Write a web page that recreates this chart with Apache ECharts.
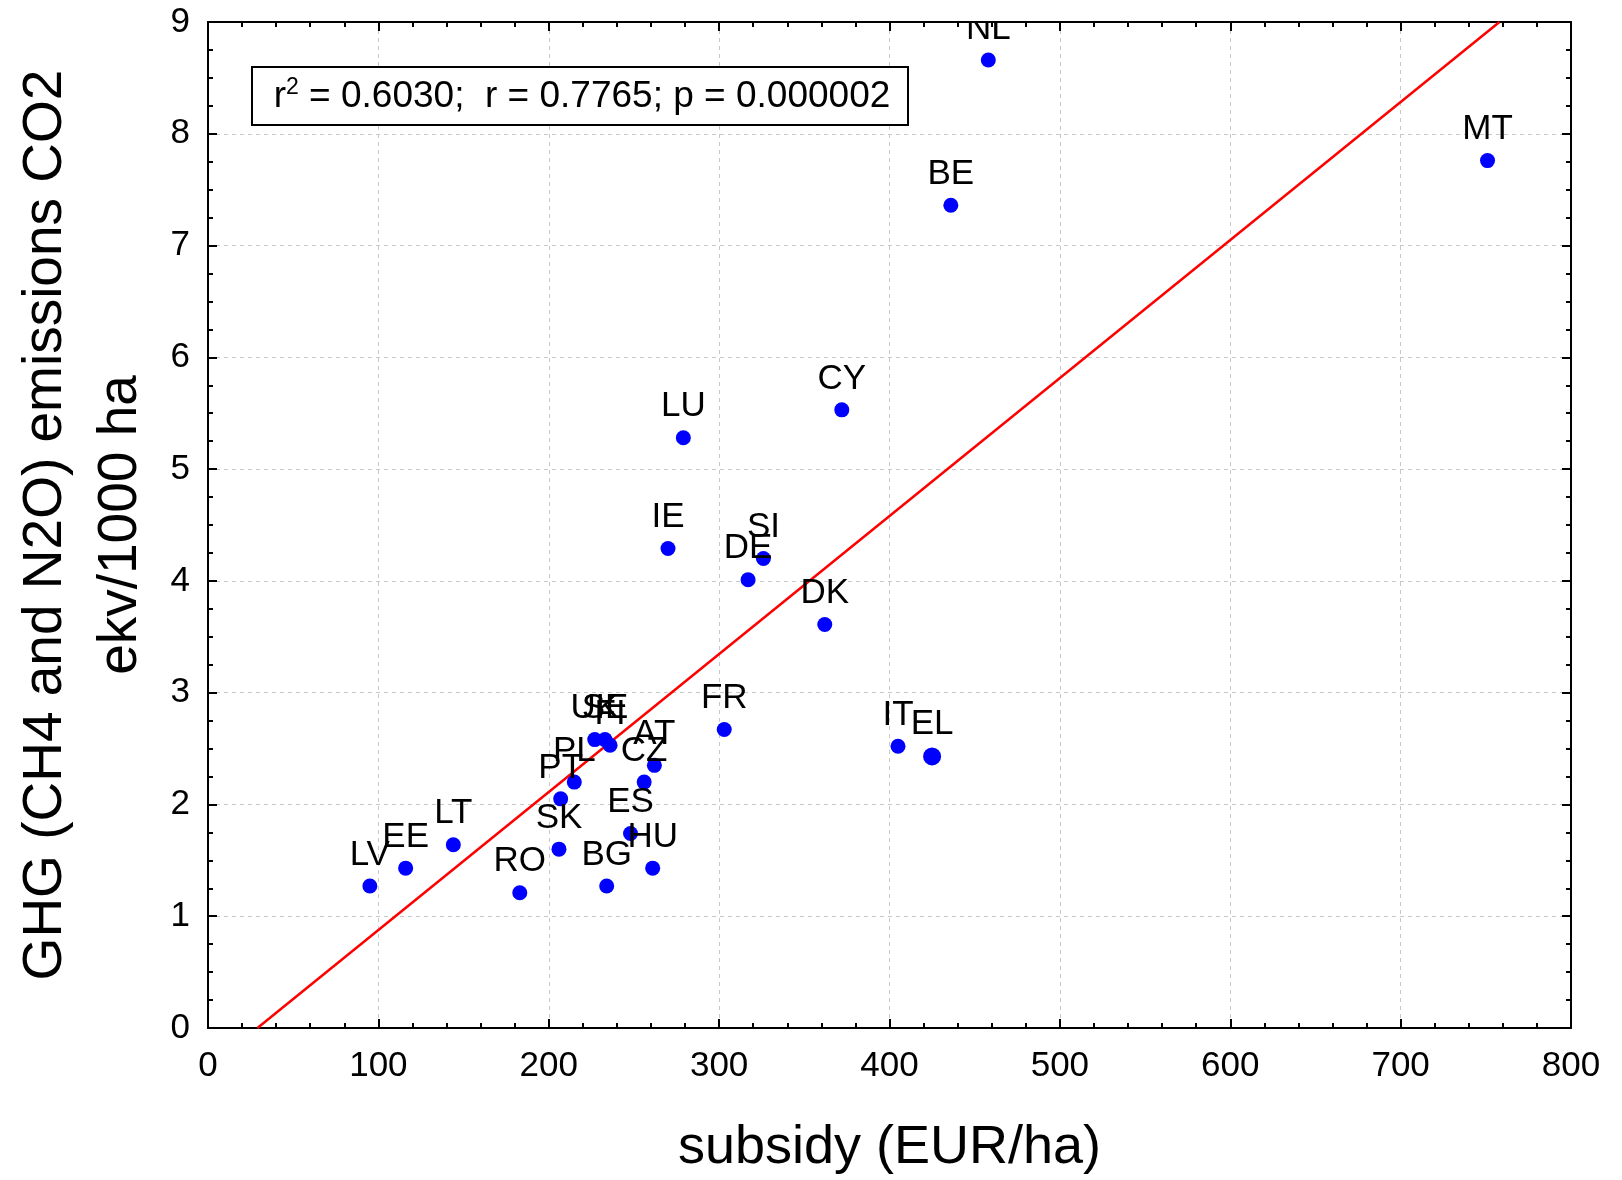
<!DOCTYPE html>
<html>
<head>
<meta charset="utf-8">
<script src="https://cdn.jsdelivr.net/npm/echarts@6/dist/echarts.min.js"></script>
<style>html,body{margin:0;padding:0;background:#fff}#c{width:1622px;height:1180px}</style>
</head>
<body>
<div id="c"></div>
<script>
const countries = ['NL','MT','BE','CY','LU','IE','SI','DE','DK','FR','IT','EL','UK','SE','FI','AT','CZ','PL','PT','ES','SK','HU','LV','EE','LT','RO','BG'];
const subsidy = [458, 751, 436, 372, 279, 270, 326, 317, 362, 303, 405, 425, 227, 233, 236, 262, 256, 215, 207, 248, 206, 261, 95, 116, 144, 183, 234];
const ghg = [8.66, 7.76, 7.36, 5.53, 5.28, 4.29, 4.20, 4.01, 3.61, 2.67, 2.52, 2.43, 2.58, 2.58, 2.53, 2.35, 2.20, 2.20, 2.05, 1.74, 1.60, 1.43, 1.27, 1.43, 1.64, 1.21, 1.27];
const fitX = [29, 758];
const fitY = [0, 9];
const xTitle = 'subsidy (EUR/ha)';
const yTitle = 'GHG (CH4 and N2O) emissions CO2\nekv/1000 ha';

const FONT = '"Liberation Sans", Arial, sans-serif';
const chart = echarts.init(document.getElementById('c'));

const pts = countries.map((c, i) => {
  const d = {name: c, value: [subsidy[i], ghg[i]]};
  if (c === 'EL') d.symbolSize = 18;
  return d;
});
const fit = fitX.map((x, i) => [x, fitY[i]]);

const axisLineS = {show: true, onZero: false, lineStyle: {color: '#000', width: 2}};
const tickS = {show: true, inside: true, length: 9, lineStyle: {color: '#000', width: 2}};
const minorS = n => ({show: true, splitNumber: n, length: 5, lineStyle: {color: '#000', width: 2}});

const option = {
  animation: false,
  backgroundColor: '#fff',
  textStyle: {fontFamily: FONT},
  grid: {left: 198, right: 51, top: 22, bottom: 147, containLabel: false},
  xAxis: [{
    type: 'value', min: 0, max: 800, interval: 100, position: 'bottom',
    name: xTitle, nameLocation: 'middle', nameGap: 93,
    nameTextStyle: {fontSize: 54, color: '#000', fontFamily: FONT},
    axisLine: axisLineS, axisTick: tickS, minorTick: minorS(5),
    axisLabel: {fontSize: 35, color: '#000', margin: 21, fontFamily: FONT},
    splitLine: {show: true, lineStyle: {color: '#c8c8c8', type: [4, 4], width: 1}}
  }, {
    type: 'value', min: 0, max: 800, interval: 100, position: 'top',
    axisLine: axisLineS, axisTick: tickS, minorTick: minorS(5),
    axisLabel: {show: false}, splitLine: {show: false}
  }],
  yAxis: [{
    type: 'value', min: 0, max: 9, interval: 1, position: 'left',
    name: yTitle, nameLocation: 'middle', nameGap: 50,
    nameTextStyle: {fontSize: 55, lineHeight: 75, color: '#000', fontFamily: FONT},
    axisLine: axisLineS, axisTick: tickS, minorTick: minorS(4),
    axisLabel: {fontSize: 35, color: '#000', margin: 18, fontFamily: FONT},
    splitLine: {show: true, lineStyle: {color: '#c8c8c8', type: [4, 4], width: 1}}
  }, {
    type: 'value', min: 0, max: 9, interval: 1, position: 'right',
    axisLine: axisLineS, axisTick: tickS, minorTick: minorS(4),
    axisLabel: {show: false}, splitLine: {show: false}
  }],
  series: [{
    type: 'line', data: fit, symbol: 'none', silent: true, z: 2,
    lineStyle: {color: '#ff0000', width: 2.5}
  }, {
    type: 'scatter', data: pts, symbolSize: 15, z: 3,
    itemStyle: {color: '#0000ff', opacity: 1},
    label: {show: true, formatter: '{b}', position: 'top', distance: 6,
      fontSize: 35, color: '#000', fontFamily: FONT}
  }],
  graphic: [
    {type: 'rect', z: 100, silent: true, shape: {x: 199, y: 0, width: 1371, height: 21}, style: {fill: '#fff'}},
    {type: 'rect', z: 50, shape: {x: 252, y: 67, width: 656, height: 58},
      style: {fill: '#fff', stroke: '#000', lineWidth: 2}},
    {type: 'text', z: 51, x: 582, y: 97,
      style: {
        text: '{a|r}{s|2}{a| = 0.6030;  r = 0.7765; p = 0.000002}',
        align: 'center', verticalAlign: 'middle',
        rich: {
          a: {fontSize: 37, fontFamily: FONT, fill: '#000', color: '#000', lineHeight: 42},
          s: {fontSize: 23, fontFamily: FONT, fill: '#000', color: '#000', lineHeight: 42, padding: [0, 0, 18, 0], verticalAlign: 'top'}
        }
      }}
  ]
};
chart.setOption(option);
</script>
</body>
</html>
